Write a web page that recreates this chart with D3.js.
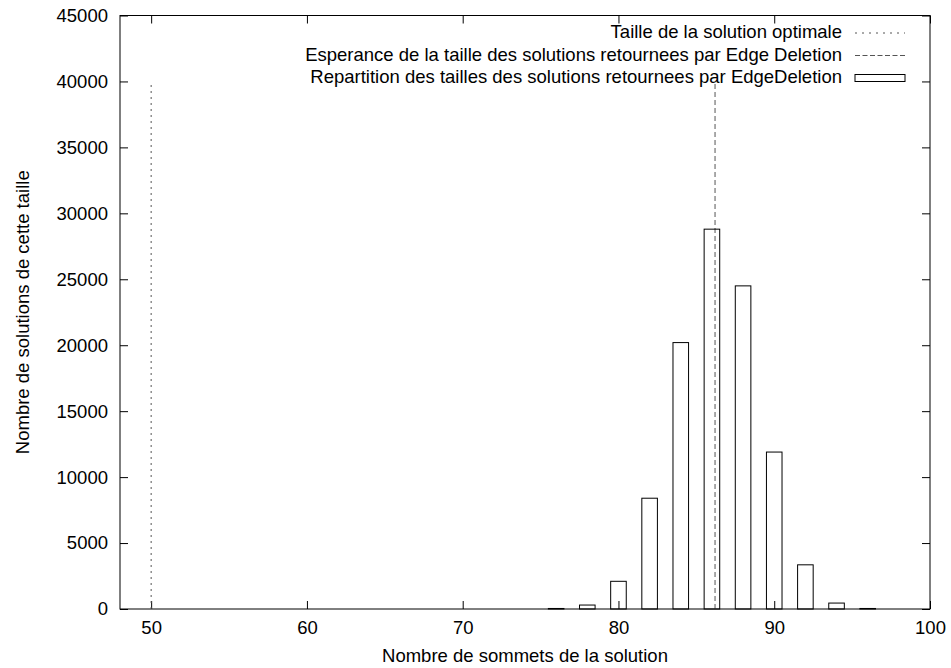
<!DOCTYPE html>
<html>
<head>
<meta charset="utf-8">
<script src="https://cdn.jsdelivr.net/npm/d3@7"></script>
<style>
  html, body { margin: 0; padding: 0; background: #fff; }
  svg text { font-family: "Liberation Sans", Arial, Helvetica, sans-serif; }
</style>
</head>
<body>
<div id="chart"></div>
<script>
// ── Data
const sizes  = [76, 78, 80, 82, 84, 86, 88, 90, 92, 94, 96];
const counts = [40, 300, 2100, 8400, 20200, 28800, 24500, 11900, 3350, 450, 40];
const optimalSize  = 50;
const expectedSize = 86.2;
const refLineTop   = 40000;
const xTicks = [50, 60, 70, 80, 90, 100];
const yTicks = [0, 5000, 10000, 15000, 20000, 25000, 30000, 35000, 40000, 45000];
const legendLabels = [
  'Taille de la solution optimale',
  'Esperance de la taille des solutions retournees par Edge Deletion',
  'Repartition des tailles des solutions retournees par EdgeDeletion'
];

// ── Layout
const W = 951, H = 668;
const L = 120, R = 930, T = 15.5, B = 609;
const FONT = 18.5;

const svg = d3.select('#chart').append('svg')
  .attr('width', W).attr('height', H)
  .style('display', 'block');

const x = d3.scaleLinear().domain([48, 100]).range([L, R]);
const y = d3.scaleLinear().domain([0, 45000]).range([B, T]);

// ── Axes (gnuplot style: inward ticks, mirrored)
const axisStyle = g => {
  g.attr('font-family', null);
  g.selectAll('.domain').remove();
  g.selectAll('line').attr('stroke', '#000').attr('stroke-width', 1);
  g.selectAll('text').attr('fill', '#000').attr('font-size', FONT + 'px');
};

svg.append('g').attr('transform', `translate(0,${B})`)
  .call(d3.axisBottom(x).tickValues(xTicks).tickSizeInner(-8).tickSizeOuter(0).tickPadding(12).tickFormat(d3.format('d')))
  .call(axisStyle);

svg.append('g').attr('transform', `translate(0,${T})`)
  .call(d3.axisTop(x).tickValues(xTicks).tickSizeInner(-8).tickSizeOuter(0).tickFormat(''))
  .call(axisStyle);

svg.append('g').attr('transform', `translate(${L},0)`)
  .call(d3.axisLeft(y).tickValues(yTicks).tickSizeInner(-8).tickSizeOuter(0).tickPadding(12).tickFormat(d3.format('d')))
  .call(axisStyle);

svg.append('g').attr('transform', `translate(${R},0)`)
  .call(d3.axisRight(y).tickValues(yTicks).tickSizeInner(-8).tickSizeOuter(0).tickFormat(''))
  .call(axisStyle);

// Frame
svg.append('rect')
  .attr('x', L).attr('y', T)
  .attr('width', R - L).attr('height', B - T)
  .attr('fill', 'none').attr('stroke', '#000').attr('stroke-width', 1);

// ── Reference lines
svg.append('line')
  .attr('x1', x(optimalSize)).attr('x2', x(optimalSize))
  .attr('y1', y(0)).attr('y2', y(refLineTop))
  .attr('stroke', '#555').attr('stroke-width', 1)
  .attr('stroke-dasharray', '2,4');

svg.append('line')
  .attr('x1', x(expectedSize)).attr('x2', x(expectedSize))
  .attr('y1', y(0)).attr('y2', y(refLineTop))
  .attr('stroke', '#555').attr('stroke-width', 1)
  .attr('stroke-dasharray', '5,3');

// ── Histogram boxes (width 1, centred on each size)
svg.append('g').selectAll('rect')
  .data(sizes.map((s, i) => ({ s, c: counts[i] })))
  .enter().append('rect')
  .attr('x', d => x(d.s - 0.5))
  .attr('y', d => y(d.c))
  .attr('width', d => x(d.s + 0.5) - x(d.s - 0.5))
  .attr('height', d => Math.max(y(0) - y(d.c), 0.5))
  .attr('fill', 'none')
  .attr('stroke', '#000').attr('stroke-width', 1);

// ── Axis titles
svg.append('text')
  .attr('x', (L + R) / 2).attr('y', 662)
  .attr('text-anchor', 'middle')
  .attr('font-size', FONT + 'px')
  .text('Nombre de sommets de la solution');

svg.append('text')
  .attr('transform', `translate(29,${(T + B) / 2}) rotate(-90)`)
  .attr('text-anchor', 'middle')
  .attr('font-size', FONT + 'px')
  .text('Nombre de solutions de cette taille');

// ── Legend
const legX = 842, sx1 = 855, sx2 = 905;
const rowY = [38, 60.5, 83];
const leg = svg.append('g');
legendLabels.forEach((lab, i) => {
  leg.append('text')
    .attr('x', legX).attr('y', rowY[i])
    .attr('text-anchor', 'end')
    .attr('font-size', FONT + 'px')
    .text(lab);
});
leg.append('line')
  .attr('x1', sx1).attr('x2', sx2).attr('y1', rowY[0] - 5).attr('y2', rowY[0] - 5)
  .attr('stroke', '#555').attr('stroke-dasharray', '2,5');
leg.append('line')
  .attr('x1', sx1).attr('x2', sx2).attr('y1', rowY[1] - 5).attr('y2', rowY[1] - 5)
  .attr('stroke', '#555').attr('stroke-dasharray', '5,2.5');
leg.append('rect')
  .attr('x', sx1).attr('y', rowY[2] - 8.5)
  .attr('width', sx2 - sx1).attr('height', 7)
  .attr('fill', 'none').attr('stroke', '#000');
</script>
</body>
</html>
